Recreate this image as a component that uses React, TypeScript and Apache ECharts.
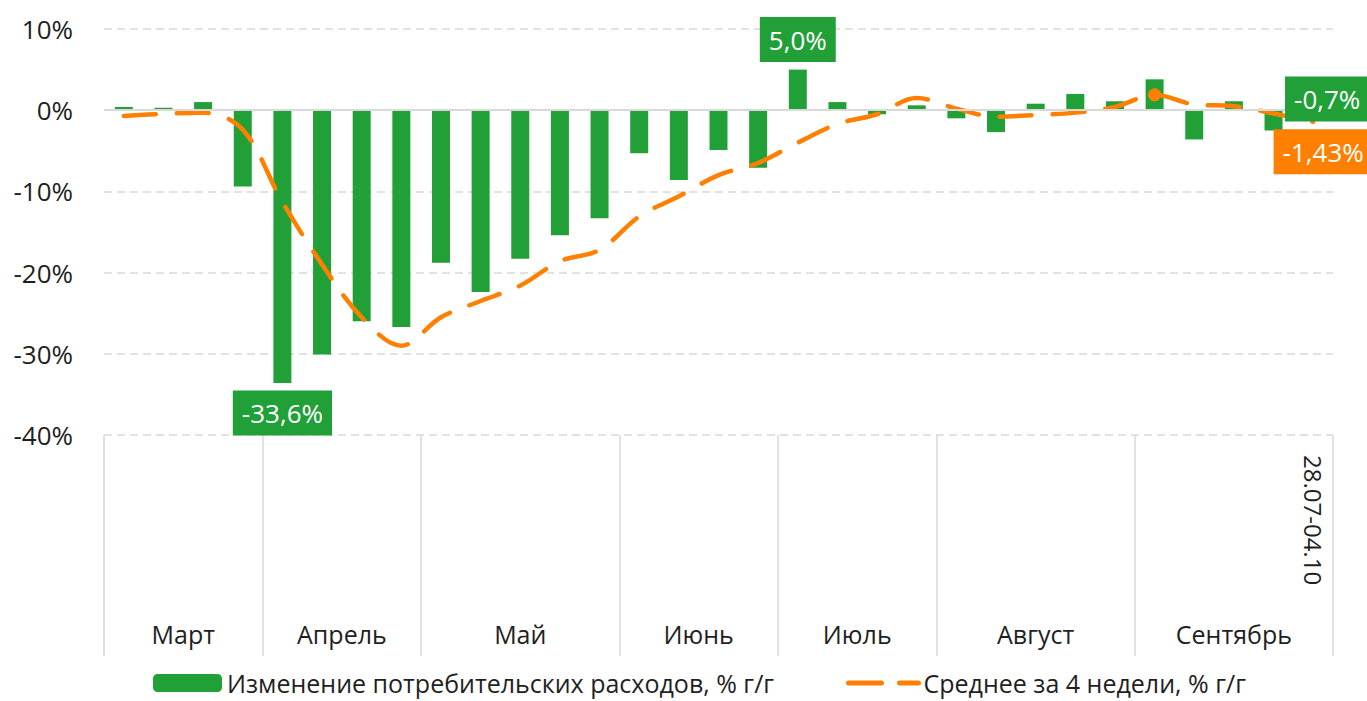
import React, { useEffect, useRef } from "react";
import * as echarts from "echarts";

const weeks = [
  "Н1", "Н2", "Н3", "Н4", "Н5", "Н6", "Н7", "Н8", "Н9", "Н10",
  "Н11", "Н12", "Н13", "Н14", "Н15", "Н16", "Н17", "Н18", "Н19", "Н20",
  "Н21", "Н22", "Н23", "Н24", "Н25", "Н26", "Н27", "Н28", "Н29", "Н30",
  "28.07-04.10",
];
const months = ["Март", "Апрель", "Май", "Июнь", "Июль", "Август", "Сентябрь"];
const monthBounds = [0, 4, 8, 13, 17, 21, 26, 31];
const monthCenters = [2, 6, 10.5, 15, 19, 23.5, 28.5];

const spending = [
  0.4, 0.3, 1.0, -9.4, -33.6, -30.1, -26.0, -26.7, -18.8, -22.4,
  -18.3, -15.4, -13.3, -5.3, -8.6, -4.9, -7.1, 5.0, 1.0, -0.5,
  0.6, -1.0, -2.7, 0.8, 2.0, 1.1, 3.8, -3.6, 1.1, -2.5,
  -0.7,
];
const average = [
  -0.7, -0.45, -0.3, -2.4, -11.3, -19.0, -25.5, -29.0, -25.5, -23.5,
  -21.6, -18.6, -17.2, -13.1, -10.6, -8.0, -6.5, -4.0, -1.7, -0.5,
  1.5, 0.2, -0.8, -0.6, -0.3, 0.4, 1.9, 0.7, 0.5, -0.4,
  -1.43,
];

const yMin = -40;
const yMax = 10;
const yStep = 10;

const GREEN = "#21A038";
const ORANGE = "#FF8000";
const GRID = "#D9D9D9";
const TEXT = "#1F1F1F";
const FONT = "'Open Sans', 'Noto Sans', sans-serif";

const fmt = (v: number, d: number) => v.toFixed(d).replace(".", ",") + "%";

export default function App() {
  const ref = useRef<HTMLDivElement>(null);

  useEffect(() => {
    if (!ref.current) return;
    const chart = echarts.init(ref.current, undefined, { renderer: "svg" });
    const boxLabel = (bg: string) => ({
      show: true,
      position: "inside",
      color: "#FFFFFF",
      fontSize: 26,
      fontFamily: FONT,
      backgroundColor: bg,
      padding: [7, 9],
      lineHeight: 31,
    });
    const legendText = { fontSize: 25, lineHeight: 26, color: TEXT, fontFamily: FONT };
    chart.setOption({
      animation: false,
      textStyle: { fontFamily: FONT },
      grid: { left: 104, right: 34, top: 29, bottom: 266, containLabel: false },
      legend: [
        {
          left: 148,
          top: 665,
          data: ["Изменение потребительских расходов, % г/г"],
          itemWidth: 69,
          itemHeight: 18,
          textStyle: legendText,
        },
        {
          left: 841,
          top: 665,
          data: ["Среднее за 4 недели, % г/г"],
          itemWidth: 70,
          itemHeight: 18,
          itemStyle: { opacity: 0 },
          lineStyle: { color: ORANGE, width: 5, type: [33, 18], cap: "round" },
          textStyle: legendText,
        },
      ],
      xAxis: [
        {
          type: "category",
          data: weeks,
          position: "bottom",
          boundaryGap: true,
          axisLine: { show: false, onZero: false },
          axisTick: { show: false },
          splitLine: { show: false },
          axisLabel: {
            interval: (i: number) => i === weeks.length - 1,
            rotate: -90,
            margin: 20,
            fontSize: 24,
            color: TEXT,
            fontFamily: FONT,
          },
        },
        {
          type: "value",
          position: "bottom",
          min: monthBounds[0],
          max: monthBounds[monthBounds.length - 1],
          axisLine: { show: false, onZero: false },
          splitLine: { show: false },
          axisTick: {
            show: true,
            customValues: monthBounds,
            length: 221,
            lineStyle: { color: GRID, width: 1.5 },
          },
          axisLabel: {
            show: true,
            customValues: monthCenters,
            margin: 186,
            fontSize: 25,
            color: TEXT,
            fontFamily: FONT,
            formatter: (v: number) => {
              const i = monthCenters.indexOf(v);
              return i >= 0 ? months[i] : "";
            },
          },
        },
      ],
      yAxis: {
        type: "value",
        min: yMin,
        max: yMax,
        interval: yStep,
        axisLine: { show: false },
        axisTick: { show: false },
        axisLabel: {
          formatter: "{value}%",
          fontSize: 26,
          color: TEXT,
          margin: 31,
          fontFamily: FONT,
        },
        splitLine: { lineStyle: { color: GRID, width: 1.5, type: [8, 5] } },
      },
      series: [
        {
          name: "Изменение потребительских расходов, % г/г",
          type: "bar",
          xAxisIndex: 0,
          data: spending,
          barWidth: 18,
          itemStyle: { color: GREEN },
          z: 2,
          markLine: {
            silent: true,
            symbol: "none",
            label: { show: false },
            lineStyle: { color: GRID, width: 2, type: "solid" },
            data: [{ yAxis: 0 }],
          },
          markPoint: {
            silent: true,
            symbol: "rect",
            symbolSize: 0,
            z: 10,
            label: boxLabel(GREEN),
            data: [
              { coord: [4, spending[4]], label: { formatter: fmt(spending[4], 1), offset: [0, 30] } },
              { coord: [17, spending[17]], label: { formatter: fmt(spending[17], 1), offset: [0, -30] } },
              { coord: [30, spending[30]], label: { formatter: fmt(spending[30], 1), offset: [14, -17] } },
            ],
          },
        },
        {
          name: "Среднее за 4 недели, % г/г",
          type: "line",
          xAxisIndex: 0,
          data: average,
          smooth: 0.35,
          symbol: "none",
          z: 3,
          itemStyle: { color: ORANGE },
          lineStyle: { color: ORANGE, width: 4.5, type: [32, 21], cap: "round" },
          markPoint: {
            silent: true,
            z: 10,
            data: [
              {
                coord: [26, average[26]],
                symbol: "circle",
                symbolSize: 13,
                itemStyle: { color: ORANGE },
                label: { show: false },
              },
              {
                coord: [30, average[30]],
                symbol: "rect",
                symbolSize: 0,
                label: { ...boxLabel(ORANGE), formatter: fmt(average[30], 2), offset: [10, 30] },
              },
            ],
          },
        },
      ],
    });
    return () => chart.dispose();
  }, []);

  return (
    <div
      ref={ref}
      style={{ position: "absolute", left: 0, top: 0, width: 1367, height: 701, background: "#fff" }}
    />
  );
}
